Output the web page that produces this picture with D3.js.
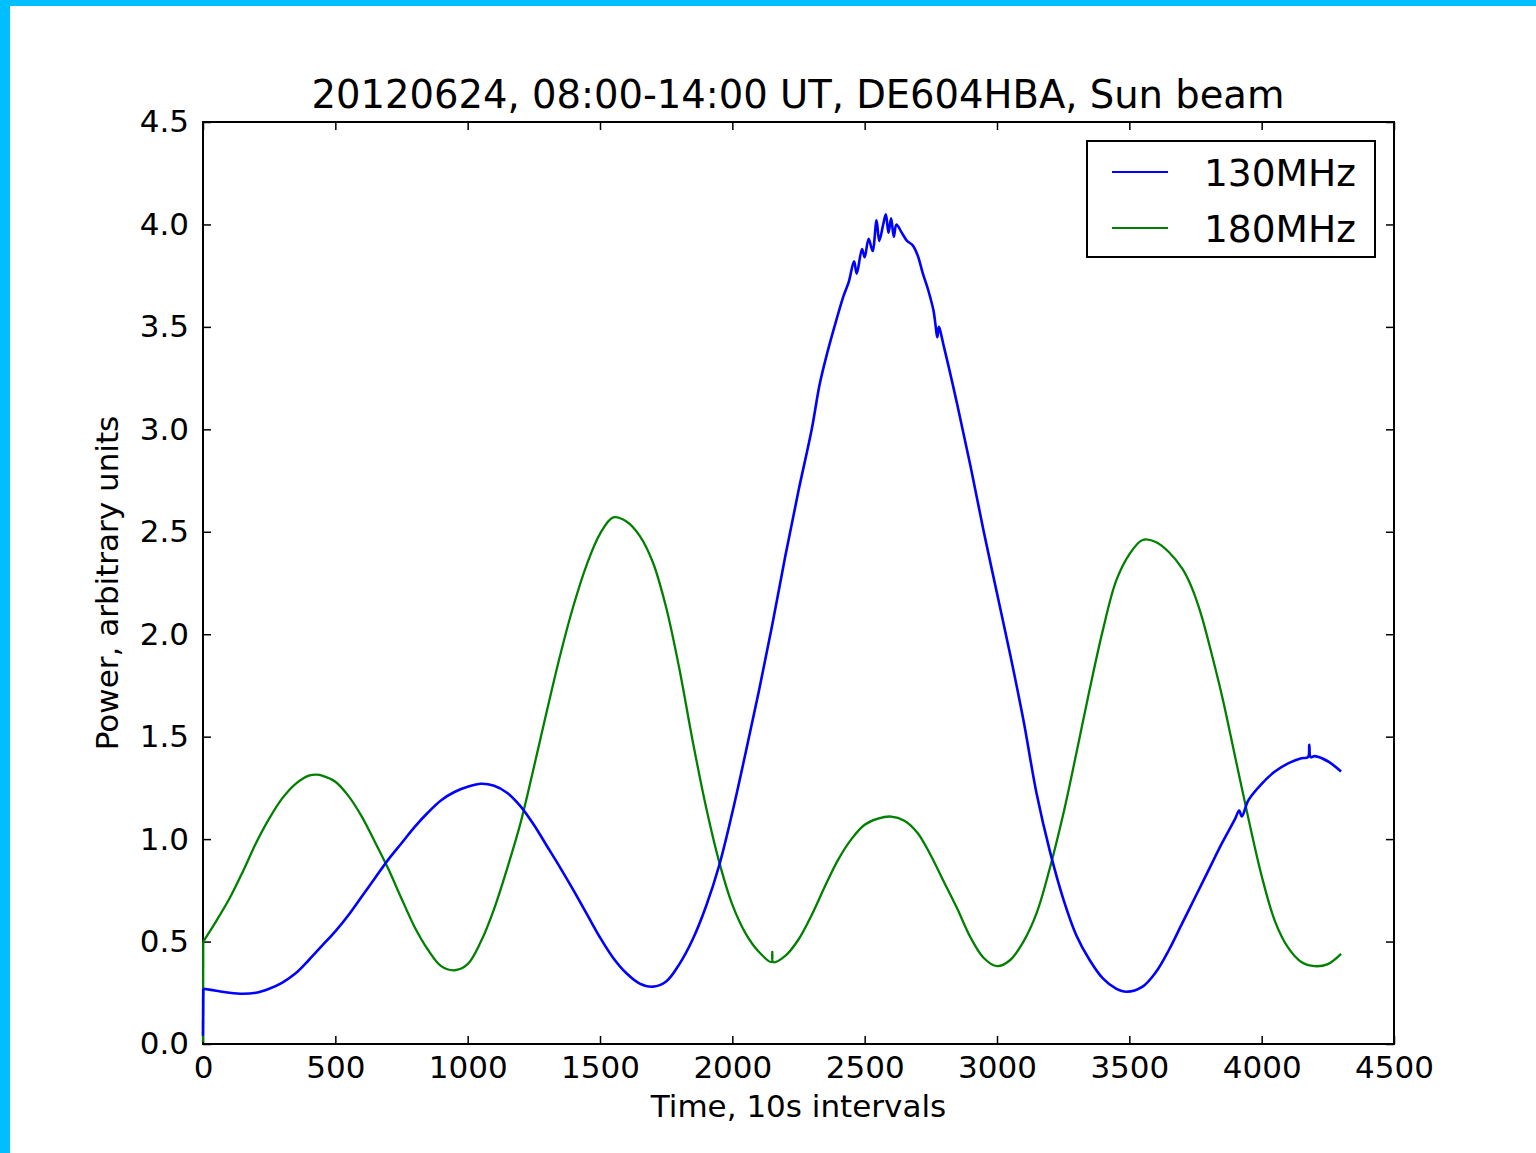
<!DOCTYPE html>
<html>
<head>
<meta charset="utf-8">
<script src="https://cdn.jsdelivr.net/npm/d3@7"></script>
<style>
  html, body { margin: 0; padding: 0; background: #fff; }
  svg { display: block; }
  text { font-family: "DejaVu Sans", sans-serif; fill: #000; }
</style>
</head>
<body>
<svg id="chart" width="1536" height="1153"></svg>
<script>
const titleText = "20120624, 08:00-14:00 UT, DE604HBA, Sun beam";
const xLabel = "Time, 10s intervals";
const yLabel = "Power, arbitrary units";
const seriesNames = ["130MHz", "180MHz"];
const seriesColors = ["#0000ff", "#008000"];
const xTicks = [0, 500, 1000, 1500, 2000, 2500, 3000, 3500, 4000, 4500];
const yTicks = [0.0, 0.5, 1.0, 1.5, 2.0, 2.5, 3.0, 3.5, 4.0, 4.5];

const time130 = [0, 1, 50, 100, 150, 200, 250, 300, 350, 400, 450, 500, 550, 600, 650, 700, 750, 800, 850, 900, 950, 1000, 1050, 1100, 1150, 1200, 1250, 1300, 1350, 1400, 1450, 1500, 1550, 1600, 1650, 1700, 1750, 1800, 1850, 1900, 1950, 2000, 2050, 2100, 2150, 2200, 2250, 2300, 2330, 2360, 2390, 2420, 2440, 2460, 2470, 2490, 2500, 2515, 2530, 2545, 2555, 2570, 2580, 2590, 2600, 2610, 2620, 2640, 2660, 2680, 2700, 2720, 2740, 2760, 2775, 2780, 2800, 2850, 2900, 2950, 3000, 3050, 3100, 3150, 3200, 3250, 3300, 3350, 3400, 3450, 3490, 3550, 3600, 3650, 3700, 3750, 3800, 3850, 3900, 3915, 3925, 3950, 4000, 4050, 4100, 4150, 4175, 4180, 4185, 4200, 4250, 4300];
const power130 = [0.04, 0.27, 0.26, 0.25, 0.245, 0.25, 0.27, 0.30, 0.345, 0.41, 0.48, 0.55, 0.63, 0.72, 0.81, 0.90, 0.98, 1.06, 1.13, 1.19, 1.23, 1.255, 1.27, 1.26, 1.225, 1.16, 1.07, 0.965, 0.86, 0.75, 0.635, 0.52, 0.42, 0.345, 0.295, 0.28, 0.305, 0.39, 0.51, 0.67, 0.87, 1.13, 1.42, 1.72, 2.04, 2.38, 2.70, 3.00, 3.22, 3.38, 3.52, 3.65, 3.72, 3.82, 3.76, 3.88, 3.84, 3.93, 3.87, 4.02, 3.92, 4.00, 4.05, 3.96, 4.03, 3.94, 4.00, 3.96, 3.92, 3.90, 3.85, 3.76, 3.68, 3.58, 3.45, 3.50, 3.40, 3.12, 2.82, 2.50, 2.20, 1.90, 1.58, 1.22, 0.94, 0.71, 0.53, 0.41, 0.32, 0.27, 0.255, 0.28, 0.35, 0.46, 0.59, 0.72, 0.85, 0.98, 1.10, 1.14, 1.11, 1.19, 1.27, 1.33, 1.37, 1.395, 1.40, 1.46, 1.40, 1.405, 1.38, 1.33];

const time180 = [0, 1, 50, 100, 150, 200, 250, 300, 350, 400, 430, 450, 500, 550, 600, 650, 700, 750, 800, 850, 900, 950, 1000, 1050, 1100, 1150, 1200, 1250, 1300, 1350, 1400, 1450, 1500, 1550, 1600, 1650, 1700, 1750, 1800, 1850, 1900, 1950, 2000, 2050, 2100, 2148, 2151, 2154, 2200, 2250, 2300, 2350, 2400, 2450, 2500, 2550, 2600, 2650, 2700, 2750, 2800, 2850, 2900, 2950, 3000, 3050, 3100, 3150, 3200, 3250, 3300, 3350, 3400, 3450, 3500, 3550, 3600, 3650, 3700, 3725, 3750, 3775, 3800, 3850, 3900, 3950, 4000, 4050, 4100, 4150, 4200, 4250, 4300];
const power180 = [0.01, 0.50, 0.60, 0.71, 0.84, 0.98, 1.10, 1.20, 1.27, 1.31, 1.315, 1.31, 1.28, 1.21, 1.11, 0.985, 0.855, 0.71, 0.57, 0.46, 0.38, 0.36, 0.39, 0.50, 0.66, 0.86, 1.08, 1.35, 1.63, 1.90, 2.14, 2.34, 2.49, 2.57, 2.55, 2.48, 2.35, 2.13, 1.83, 1.48, 1.16, 0.89, 0.68, 0.54, 0.45, 0.40, 0.45, 0.40, 0.43, 0.51, 0.63, 0.77, 0.90, 1.00, 1.07, 1.10, 1.11, 1.09, 1.03, 0.92, 0.79, 0.66, 0.52, 0.42, 0.38, 0.41, 0.50, 0.64, 0.86, 1.12, 1.42, 1.73, 2.02, 2.26, 2.39, 2.46, 2.45, 2.40, 2.32, 2.26, 2.18, 2.08, 1.96, 1.70, 1.40, 1.10, 0.82, 0.60, 0.47, 0.40, 0.38, 0.39, 0.44];

const svg = d3.select("#chart");
const W = 1536, H = 1153;
const plot = { left: 203, right: 1394, top: 122, bottom: 1044 };

svg.append("rect").attr("width", W).attr("height", H).attr("fill", "#fff");
svg.append("rect").attr("x", 0).attr("y", 0).attr("width", W).attr("height", 6).attr("fill", "#00bfff");
svg.append("rect").attr("x", 0).attr("y", 0).attr("width", 10).attr("height", H).attr("fill", "#00bfff");

const x = d3.scaleLinear().domain([0, 4500]).range([plot.left, plot.right]);
const y = d3.scaleLinear().domain([0, 4.5]).range([plot.bottom, plot.top]);

const smooth = d3.line().x(d => x(d[0])).y(d => y(d[1])).curve(d3.curveCatmullRom.alpha(0.5));
const straight = d3.line().x(d => x(d[0])).y(d => y(d[1]));

const series = [
  { name: seriesNames[0], color: seriesColors[0], pts: time130.map((t, i) => [t, power130[i]]), w: 2.6 },
  { name: seriesNames[1], color: seriesColors[1], pts: time180.map((t, i) => [t, power180[i]]), w: 2.3 }
];

const tl = 8;
const fs = 31;
const xb = d3.axisBottom(x).tickValues(xTicks).tickSize(-tl).tickFormat(d3.format("d")).tickPadding(tl + 4);
const xt = d3.axisTop(x).tickValues(xTicks).tickSize(-tl).tickFormat("");
const yl = d3.axisLeft(y).tickValues(yTicks).tickSize(-tl).tickFormat(d3.format(".1f")).tickPadding(tl + 6);
const yr = d3.axisRight(y).tickValues(yTicks).tickSize(-tl).tickFormat("");

function styleAxis(sel) {
  sel.select(".domain").remove();
  sel.selectAll(".tick line").attr("stroke", "#000").attr("stroke-width", 1.5);
  sel.selectAll(".tick text").attr("font-size", fs).attr("font-family", "DejaVu Sans").attr("fill", "#111");
}

svg.append("rect").attr("x", plot.left).attr("y", plot.top)
  .attr("width", plot.right - plot.left).attr("height", plot.bottom - plot.top)
  .attr("fill", "none").attr("stroke", "#000").attr("stroke-width", 2);

svg.append("g").attr("transform", `translate(0,${plot.bottom})`).call(xb).call(styleAxis);
svg.append("g").attr("transform", `translate(0,${plot.top})`).call(xt).call(styleAxis);
svg.append("g").attr("transform", `translate(${plot.left},0)`).call(yl).call(styleAxis);
svg.append("g").attr("transform", `translate(${plot.right},0)`).call(yr).call(styleAxis);

const g = svg.append("g");
[series[1], series[0]].forEach(s => {
  // initial jump at t=0 drawn straight, the rest smoothed
  g.append("path").datum(s.pts.slice(0, 2)).attr("d", straight)
    .attr("fill", "none").attr("stroke", s.color).attr("stroke-width", s.w);
  g.append("path").datum(s.pts.slice(1)).attr("d", smooth)
    .attr("fill", "none").attr("stroke", s.color).attr("stroke-width", s.w)
    .attr("stroke-linejoin", "round");
});

svg.append("text").attr("x", 798).attr("y", 108)
  .attr("text-anchor", "middle").attr("font-size", 38.5).attr("fill", "#111").text(titleText);
svg.append("text").attr("x", (plot.left + plot.right) / 2).attr("y", 1117)
  .attr("text-anchor", "middle").attr("font-size", fs).attr("fill", "#111").text(xLabel);
svg.append("text").attr("transform", `translate(118,${(plot.top + plot.bottom) / 2}) rotate(-90)`)
  .attr("text-anchor", "middle").attr("font-size", fs).attr("fill", "#111").text(yLabel);

const lg = svg.append("g");
lg.append("rect").attr("x", 1087).attr("y", 141).attr("width", 288).attr("height", 116)
  .attr("fill", "#fff").attr("stroke", "#000").attr("stroke-width", 2);
series.forEach((s, i) => {
  const cy = 172 + i * 56;
  lg.append("line").attr("x1", 1112).attr("x2", 1168).attr("y1", cy).attr("y2", cy)
    .attr("stroke", s.color).attr("stroke-width", 2);
  lg.append("text").attr("x", 1204).attr("y", cy).attr("dy", "0.36em")
    .attr("font-size", 37.5).attr("fill", "#111").text(s.name);
});
</script>
</body>
</html>
